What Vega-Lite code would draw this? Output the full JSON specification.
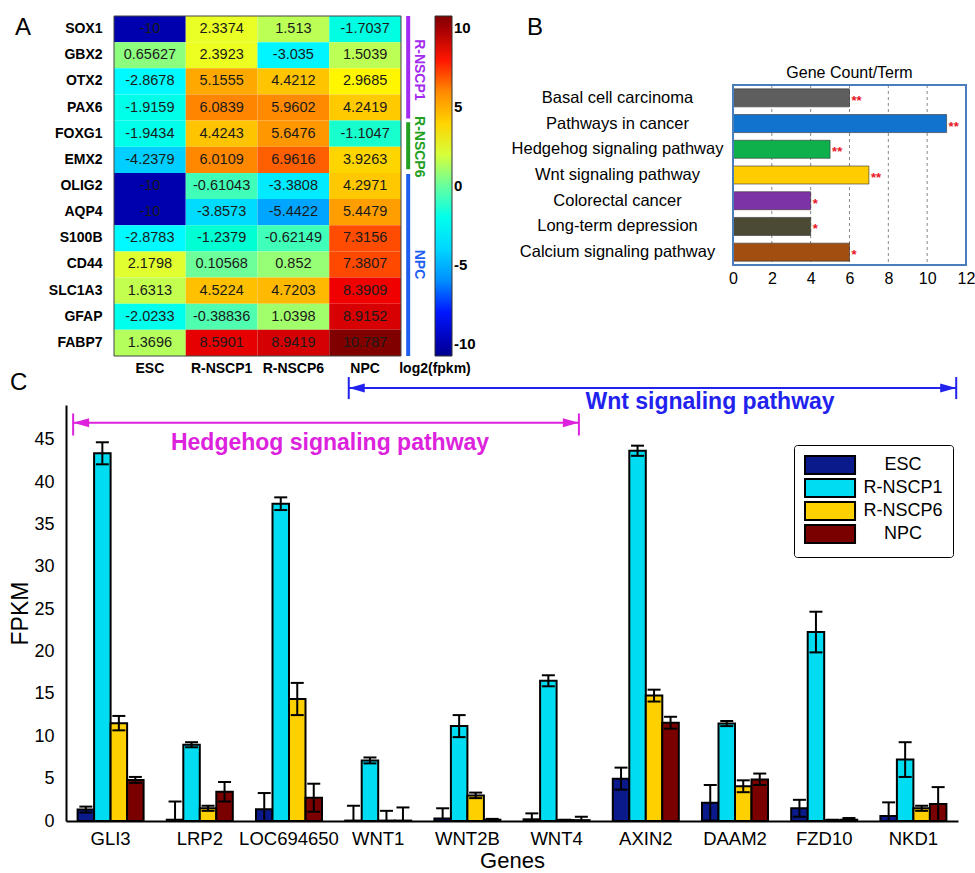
{
  "$schema": "https://vega.github.io/schema/vega-lite/v6.json",
  "background": "white",
  "padding": {"left": 9, "top": 14, "right": 0, "bottom": 0},
  "config": {
    "font": "Liberation Sans",
    "view": {"stroke": null},
    "axis": {"labelColor": "black", "titleColor": "black"},
    "legend": {"labelColor": "black", "titleColor": "black"}
  },
  "datasets": {
    "heat": [
      {"gene": "SOX1", "cell": "ESC", "log2fpkm": -10}, {"gene": "SOX1", "cell": "R-NSCP1", "log2fpkm": 2.3374}, {"gene": "SOX1", "cell": "R-NSCP6", "log2fpkm": 1.513}, {"gene": "SOX1", "cell": "NPC", "log2fpkm": -1.7037},
      {"gene": "GBX2", "cell": "ESC", "log2fpkm": 0.65627}, {"gene": "GBX2", "cell": "R-NSCP1", "log2fpkm": 2.3923}, {"gene": "GBX2", "cell": "R-NSCP6", "log2fpkm": -3.035}, {"gene": "GBX2", "cell": "NPC", "log2fpkm": 1.5039},
      {"gene": "OTX2", "cell": "ESC", "log2fpkm": -2.8678}, {"gene": "OTX2", "cell": "R-NSCP1", "log2fpkm": 5.1555}, {"gene": "OTX2", "cell": "R-NSCP6", "log2fpkm": 4.4212}, {"gene": "OTX2", "cell": "NPC", "log2fpkm": 2.9685},
      {"gene": "PAX6", "cell": "ESC", "log2fpkm": -1.9159}, {"gene": "PAX6", "cell": "R-NSCP1", "log2fpkm": 6.0839}, {"gene": "PAX6", "cell": "R-NSCP6", "log2fpkm": 5.9602}, {"gene": "PAX6", "cell": "NPC", "log2fpkm": 4.2419},
      {"gene": "FOXG1", "cell": "ESC", "log2fpkm": -1.9434}, {"gene": "FOXG1", "cell": "R-NSCP1", "log2fpkm": 4.4243}, {"gene": "FOXG1", "cell": "R-NSCP6", "log2fpkm": 5.6476}, {"gene": "FOXG1", "cell": "NPC", "log2fpkm": -1.1047},
      {"gene": "EMX2", "cell": "ESC", "log2fpkm": -4.2379}, {"gene": "EMX2", "cell": "R-NSCP1", "log2fpkm": 6.0109}, {"gene": "EMX2", "cell": "R-NSCP6", "log2fpkm": 6.9616}, {"gene": "EMX2", "cell": "NPC", "log2fpkm": 3.9263},
      {"gene": "OLIG2", "cell": "ESC", "log2fpkm": -10}, {"gene": "OLIG2", "cell": "R-NSCP1", "log2fpkm": -0.61043}, {"gene": "OLIG2", "cell": "R-NSCP6", "log2fpkm": -3.3808}, {"gene": "OLIG2", "cell": "NPC", "log2fpkm": 4.2971},
      {"gene": "AQP4", "cell": "ESC", "log2fpkm": -10}, {"gene": "AQP4", "cell": "R-NSCP1", "log2fpkm": -3.8573}, {"gene": "AQP4", "cell": "R-NSCP6", "log2fpkm": -5.4422}, {"gene": "AQP4", "cell": "NPC", "log2fpkm": 5.4479},
      {"gene": "S100B", "cell": "ESC", "log2fpkm": -2.8783}, {"gene": "S100B", "cell": "R-NSCP1", "log2fpkm": -1.2379}, {"gene": "S100B", "cell": "R-NSCP6", "log2fpkm": -0.62149}, {"gene": "S100B", "cell": "NPC", "log2fpkm": 7.3156},
      {"gene": "CD44", "cell": "ESC", "log2fpkm": 2.1798}, {"gene": "CD44", "cell": "R-NSCP1", "log2fpkm": 0.10568}, {"gene": "CD44", "cell": "R-NSCP6", "log2fpkm": 0.852}, {"gene": "CD44", "cell": "NPC", "log2fpkm": 7.3807},
      {"gene": "SLC1A3", "cell": "ESC", "log2fpkm": 1.6313}, {"gene": "SLC1A3", "cell": "R-NSCP1", "log2fpkm": 4.5224}, {"gene": "SLC1A3", "cell": "R-NSCP6", "log2fpkm": 4.7203}, {"gene": "SLC1A3", "cell": "NPC", "log2fpkm": 8.3909},
      {"gene": "GFAP", "cell": "ESC", "log2fpkm": -2.0233}, {"gene": "GFAP", "cell": "R-NSCP1", "log2fpkm": -0.38836}, {"gene": "GFAP", "cell": "R-NSCP6", "log2fpkm": 1.0398}, {"gene": "GFAP", "cell": "NPC", "log2fpkm": 8.9152},
      {"gene": "FABP7", "cell": "ESC", "log2fpkm": 1.3696}, {"gene": "FABP7", "cell": "R-NSCP1", "log2fpkm": 8.5901}, {"gene": "FABP7", "cell": "R-NSCP6", "log2fpkm": 8.9419}, {"gene": "FABP7", "cell": "NPC", "log2fpkm": 10.787}
    ],
    "groups": [
      {"group": "R-NSCP1", "firstRow": 0, "lastRow": 3.92, "midRow": 2.06},
      {"group": "R-NSCP6", "firstRow": 4.06, "lastRow": 5.86, "midRow": 5.0},
      {"group": "NPC", "firstRow": 6.04, "lastRow": 13, "midRow": 9.5}
    ],
    "kegg": [
      {"term": "Basal cell carcinoma", "count": 6, "significance": "**"},
      {"term": "Pathways in cancer", "count": 11, "significance": "**"},
      {"term": "Hedgehog signaling pathway", "count": 5, "significance": "**"},
      {"term": "Wnt signaling pathway", "count": 7, "significance": "**"},
      {"term": "Colorectal cancer", "count": 4, "significance": "*"},
      {"term": "Long-term depression", "count": 4, "significance": "*"},
      {"term": "Calcium signaling pathway", "count": 6, "significance": "*"}
    ],
    "countGrid": [{"count": 2}, {"count": 4}, {"count": 6}, {"count": 8}, {"count": 10}],
    "fpkm": [
      {"gene": "GLI3", "cell": "ESC", "fpkm": 1.35, "lo": 1.0, "hi": 1.7},
      {"gene": "GLI3", "cell": "R-NSCP1", "fpkm": 43.4, "lo": 42.1, "hi": 44.7},
      {"gene": "GLI3", "cell": "R-NSCP6", "fpkm": 11.55, "lo": 10.7, "hi": 12.4},
      {"gene": "GLI3", "cell": "NPC", "fpkm": 4.85, "lo": 4.5, "hi": 5.2},
      {"gene": "LRP2", "cell": "ESC", "fpkm": 0.15, "lo": 0, "hi": 2.3},
      {"gene": "LRP2", "cell": "R-NSCP1", "fpkm": 9.0, "lo": 8.7, "hi": 9.3},
      {"gene": "LRP2", "cell": "R-NSCP6", "fpkm": 1.5, "lo": 1.2, "hi": 1.8},
      {"gene": "LRP2", "cell": "NPC", "fpkm": 3.45, "lo": 2.3, "hi": 4.6},
      {"gene": "LOC694650", "cell": "ESC", "fpkm": 1.4, "lo": 0, "hi": 3.3},
      {"gene": "LOC694650", "cell": "R-NSCP1", "fpkm": 37.45, "lo": 36.7, "hi": 38.2},
      {"gene": "LOC694650", "cell": "R-NSCP6", "fpkm": 14.4, "lo": 12.5, "hi": 16.3},
      {"gene": "LOC694650", "cell": "NPC", "fpkm": 2.75, "lo": 1.1, "hi": 4.4},
      {"gene": "WNT1", "cell": "ESC", "fpkm": 0.05, "lo": 0, "hi": 1.8},
      {"gene": "WNT1", "cell": "R-NSCP1", "fpkm": 7.15, "lo": 6.8, "hi": 7.5},
      {"gene": "WNT1", "cell": "R-NSCP6", "fpkm": 0.05, "lo": 0, "hi": 1.2},
      {"gene": "WNT1", "cell": "NPC", "fpkm": 0.05, "lo": 0, "hi": 1.6},
      {"gene": "WNT2B", "cell": "ESC", "fpkm": 0.3, "lo": 0, "hi": 1.5},
      {"gene": "WNT2B", "cell": "R-NSCP1", "fpkm": 11.2, "lo": 9.9, "hi": 12.5},
      {"gene": "WNT2B", "cell": "R-NSCP6", "fpkm": 3.0, "lo": 2.7, "hi": 3.35},
      {"gene": "WNT2B", "cell": "NPC", "fpkm": 0.15, "lo": 0.05, "hi": 0.25},
      {"gene": "WNT4", "cell": "ESC", "fpkm": 0.2, "lo": 0, "hi": 0.9},
      {"gene": "WNT4", "cell": "R-NSCP1", "fpkm": 16.55, "lo": 15.9, "hi": 17.2},
      {"gene": "WNT4", "cell": "R-NSCP6", "fpkm": 0.1, "lo": 0.05, "hi": 0.15},
      {"gene": "WNT4", "cell": "NPC", "fpkm": 0.1, "lo": 0, "hi": 0.5},
      {"gene": "AXIN2", "cell": "ESC", "fpkm": 5.0, "lo": 3.7, "hi": 6.3},
      {"gene": "AXIN2", "cell": "R-NSCP1", "fpkm": 43.7, "lo": 43.1, "hi": 44.3},
      {"gene": "AXIN2", "cell": "R-NSCP6", "fpkm": 14.8, "lo": 14.1, "hi": 15.5},
      {"gene": "AXIN2", "cell": "NPC", "fpkm": 11.6, "lo": 10.9, "hi": 12.3},
      {"gene": "DAAM2", "cell": "ESC", "fpkm": 2.15, "lo": 0.05, "hi": 4.25},
      {"gene": "DAAM2", "cell": "R-NSCP1", "fpkm": 11.5, "lo": 11.2, "hi": 11.8},
      {"gene": "DAAM2", "cell": "R-NSCP6", "fpkm": 4.1, "lo": 3.4, "hi": 4.8},
      {"gene": "DAAM2", "cell": "NPC", "fpkm": 4.9, "lo": 4.25, "hi": 5.6},
      {"gene": "FZD10", "cell": "ESC", "fpkm": 1.5, "lo": 0.5, "hi": 2.5},
      {"gene": "FZD10", "cell": "R-NSCP1", "fpkm": 22.3, "lo": 19.9, "hi": 24.7},
      {"gene": "FZD10", "cell": "R-NSCP6", "fpkm": 0.1, "lo": 0.05, "hi": 0.15},
      {"gene": "FZD10", "cell": "NPC", "fpkm": 0.15, "lo": 0, "hi": 0.35},
      {"gene": "NKD1", "cell": "ESC", "fpkm": 0.6, "lo": 0, "hi": 2.2},
      {"gene": "NKD1", "cell": "R-NSCP1", "fpkm": 7.25, "lo": 5.2, "hi": 9.3},
      {"gene": "NKD1", "cell": "R-NSCP6", "fpkm": 1.5, "lo": 1.2, "hi": 1.8},
      {"gene": "NKD1", "cell": "NPC", "fpkm": 2.0, "lo": 0, "hi": 4.0}
    ],
    "pathways": [
      {"pathway": "Hedgehog signaling pathway", "startGene": 0.08, "endGene": 5.75, "arrowLevel": 47.0, "capBottom": 45.5, "capTop": 48.1, "labelGene": 2.96, "labelLevel": 44.6},
      {"pathway": "Wnt signaling pathway", "startGene": 3.17, "endGene": 9.98, "arrowLevel": 51.1, "capBottom": 49.8, "capTop": 52.4, "labelGene": 7.22, "labelLevel": 49.4}
    ]
  },
  "columns": 1,
  "spacing": -6,
  "resolve": {"scale": {"color": "independent", "fill": "independent"}, "legend": {"color": "independent", "fill": "independent"}},
  "concat": [
    {
      "columns": 2,
      "spacing": 35,
      "resolve": {"scale": {"color": "independent"}, "legend": {"color": "independent"}},
      "concat": [
        {
          "width": 335,
          "height": 340,
          "layer": [
            {
              "data": {"name": "heat"},
              "mark": {"type": "rect"},
              "encoding": {
                "x": {"field": "cell", "type": "nominal", "scale": {"type": "band", "domain": ["ESC", "R-NSCP1", "R-NSCP6", "NPC"], "paddingInner": 0, "paddingOuter": 0.3344, "align": 1}, "axis": {"title": null, "labelAngle": 0, "labelFontSize": 14, "labelFontWeight": "bold", "ticks": false, "domain": false, "labelPadding": 5}},
                "y": {"field": "gene", "type": "nominal", "scale": {"type": "band", "domain": ["SOX1", "GBX2", "OTX2", "PAX6", "FOXG1", "EMX2", "OLIG2", "AQP4", "S100B", "CD44", "SLC1A3", "GFAP", "FABP7"], "paddingInner": 0, "paddingOuter": 0}, "axis": {"title": null, "labelFontSize": 14, "labelFontWeight": "bold", "ticks": false, "domain": false, "labelPadding": 12, "offset": -48}},
                "color": {
                  "field": "log2fpkm", "type": "quantitative",
                  "scale": {"domain": [-10.79, -8.09, -2.7, 2.7, 8.09, 10.79], "range": ["#00008F", "#0000FF", "#00FFFF", "#FFFF00", "#FF0000", "#800000"]},
                  "legend": {"title": "log2(fpkm)", "titleOrient": "bottom", "titleFontSize": 14, "titleFontWeight": "bold", "titleAnchor": "start", "titleAlign": "center", "values": [-10, -5, 0, 5, 10], "labelExpr": "replace(datum.label, '\u2212', '-')", "gradientLength": 340, "gradientThickness": 17, "gradientStrokeColor": "#333", "gradientStrokeWidth": 1, "labelFontSize": 15, "labelFontWeight": "bold", "labelOverlap": false, "offset": -2}
                }
              }
            },
            {
              "data": {"name": "heat"},
              "transform": [{"calculate": "replace(format(datum.log2fpkm, '.5~g'), '\u2212', '-')", "as": "shown"}],
              "mark": {"type": "text", "fontSize": 14.5, "color": "#1a1a1a"},
              "encoding": {
                "x": {"field": "cell", "type": "nominal", "scale": {"type": "band", "domain": ["ESC", "R-NSCP1", "R-NSCP6", "NPC"], "paddingInner": 0, "paddingOuter": 0.3344, "align": 1}, "axis": null},
                "y": {"field": "gene", "type": "nominal", "scale": {"type": "band", "domain": ["SOX1", "GBX2", "OTX2", "PAX6", "FOXG1", "EMX2", "OLIG2", "AQP4", "S100B", "CD44", "SLC1A3", "GFAP", "FABP7"], "paddingInner": 0, "paddingOuter": 0}, "axis": null},
                "text": {"field": "shown"}
              }
            },
            {
              "data": {"values": [{"frame": "heatmap"}]},
              "mark": {"type": "rect", "fill": null, "stroke": "#444", "strokeWidth": 1},
              "encoding": {
                "x": {"datum": 0, "type": "quantitative", "scale": {"domain": [-0.669, 4], "nice": false, "zero": false}, "axis": null},
                "x2": {"datum": 4},
                "y": {"datum": 0, "type": "quantitative", "scale": {"domain": [0, 13], "nice": false, "zero": false, "reverse": true}, "axis": null},
                "y2": {"datum": 13}
              }
            },
            {
              "data": {"name": "groups"},
              "mark": {"type": "rule", "strokeWidth": 4},
              "encoding": {
                "x": {"datum": 4.1, "type": "quantitative", "scale": {"domain": [-0.669, 4], "nice": false, "zero": false}, "axis": null},
                "y": {"field": "firstRow", "type": "quantitative", "scale": {"domain": [0, 13], "nice": false, "zero": false, "reverse": true}, "axis": null},
                "y2": {"field": "lastRow"},
                "color": {"field": "group", "type": "nominal", "scale": {"domain": ["R-NSCP1", "R-NSCP6", "NPC"], "range": ["#A32AF0", "#22A022", "#1F5FF0"]}, "legend": null}
              }
            },
            {
              "data": {"name": "groups"},
              "mark": {"type": "text", "angle": 90, "fontSize": 14, "fontWeight": "bold"},
              "encoding": {
                "x": {"datum": 4.25, "type": "quantitative", "scale": {"domain": [-0.669, 4], "nice": false, "zero": false}, "axis": null},
                "y": {"field": "midRow", "type": "quantitative", "scale": {"domain": [0, 13], "nice": false, "zero": false, "reverse": true}, "axis": null},
                "text": {"field": "group"},
                "color": {"field": "group", "type": "nominal", "scale": {"domain": ["R-NSCP1", "R-NSCP6", "NPC"], "range": ["#A32AF0", "#22A022", "#1F5FF0"]}, "legend": null}
              }
            },
            {
              "data": {"values": [{"panel": "A"}]},
              "mark": {"type": "text", "fontSize": 24, "color": "black"},
              "encoding": {
                "x": {"datum": -1.268, "type": "quantitative", "scale": {"domain": [-0.669, 4], "nice": false, "zero": false}, "axis": null},
                "y": {"datum": 0.46, "type": "quantitative", "scale": {"domain": [0, 13], "nice": false, "zero": false, "reverse": true}, "axis": null},
                "text": {"field": "panel"}
              }
            }
          ],
          "resolve": {"scale": {"x": "independent", "y": "independent", "color": "independent"}}
        },
        {
          "width": 233,
          "height": 249,
          "layer": [
            {
              "data": {"name": "countGrid"},
              "mark": {"type": "rule", "strokeDash": [3, 3], "color": "#888", "strokeWidth": 1},
              "encoding": {
                "x": {"field": "count", "type": "quantitative", "title": null, "scale": {"domain": [0, 12], "nice": false}, "axis": {"values": [0, 2, 4, 6, 8, 10, 12], "tickCount": 7, "labelFontSize": 16, "labelOverlap": false, "labelFlush": false, "grid": false, "ticks": false, "domain": false, "labelPadding": 5}},
                "y": {"datum": 0, "type": "quantitative", "scale": {"domain": [-2.684, 7], "nice": false, "zero": false, "reverse": true}, "axis": null},
                "y2": {"datum": 7}
              }
            },
            {
              "data": {"name": "kegg"},
              "mark": {"type": "bar", "stroke": "#333", "strokeWidth": 0.6},
              "encoding": {
                "y": {"field": "term", "type": "nominal", "scale": {"type": "band", "domain": ["Basal cell carcinoma", "Pathways in cancer", "Hedgehog signaling pathway", "Wnt signaling pathway", "Colorectal cancer", "Long-term depression", "Calcium signaling pathway"], "range": [69, 249], "paddingInner": 0.3, "paddingOuter": 0.15}, "axis": {"title": null, "labelFontSize": 16.5, "labelAlign": "center", "labelPadding": 116, "ticks": false, "domain": false, "labelLimit": 400}},
                "x": {"field": "count", "type": "quantitative", "title": null, "scale": {"domain": [0, 12], "nice": false}, "axis": {"values": [0, 2, 4, 6, 8, 10, 12], "tickCount": 7, "labelFontSize": 16, "labelOverlap": false, "labelFlush": false, "grid": false, "ticks": false, "domain": false, "labelPadding": 5}},
                "color": {"field": "term", "type": "nominal", "scale": {"domain": ["Basal cell carcinoma", "Pathways in cancer", "Hedgehog signaling pathway", "Wnt signaling pathway", "Colorectal cancer", "Long-term depression", "Calcium signaling pathway"], "range": ["#5E5E5E", "#1273CF", "#0DB04B", "#FFCC00", "#7B33A6", "#4B4A35", "#A24E10"]}, "legend": null}
              }
            },
            {
              "data": {"name": "kegg"},
              "mark": {"type": "text", "align": "left", "dx": 2, "dy": 3, "color": "#E8141E", "fontSize": 13, "fontWeight": "bold"},
              "encoding": {
                "y": {"field": "term", "type": "nominal", "scale": {"type": "band", "domain": ["Basal cell carcinoma", "Pathways in cancer", "Hedgehog signaling pathway", "Wnt signaling pathway", "Colorectal cancer", "Long-term depression", "Calcium signaling pathway"], "range": [69, 249], "paddingInner": 0.3, "paddingOuter": 0.15}, "axis": null},
                "x": {"field": "count", "type": "quantitative", "title": null, "scale": {"domain": [0, 12], "nice": false}, "axis": {"values": [0, 2, 4, 6, 8, 10, 12], "tickCount": 7, "labelFontSize": 16, "labelOverlap": false, "labelFlush": false, "grid": false, "ticks": false, "domain": false, "labelPadding": 5}},
                "text": {"field": "significance"}
              }
            },
            {
              "data": {"values": [{"frame": "plot"}]},
              "mark": {"type": "rect", "fill": null, "stroke": "#4A7EBB", "strokeWidth": 2},
              "encoding": {
                "x": {"datum": 0, "type": "quantitative", "title": null, "scale": {"domain": [0, 12], "nice": false}, "axis": {"values": [0, 2, 4, 6, 8, 10, 12], "tickCount": 7, "labelFontSize": 16, "labelOverlap": false, "labelFlush": false, "grid": false, "ticks": false, "domain": false, "labelPadding": 5}},
                "x2": {"datum": 12},
                "y": {"datum": 0, "type": "quantitative", "scale": {"domain": [-2.684, 7], "nice": false, "zero": false, "reverse": true}, "axis": null},
                "y2": {"datum": 7}
              }
            },
            {
              "data": {"values": [{"panel": "B", "heading": "Gene Count/Term"}]},
              "mark": {"type": "text", "fontSize": 24, "color": "black"},
              "encoding": {
                "x": {"datum": -10.2, "type": "quantitative", "title": null, "scale": {"domain": [0, 12], "nice": false}, "axis": {"values": [0, 2, 4, 6, 8, 10, 12], "tickCount": 7, "labelFontSize": 16, "labelOverlap": false, "labelFlush": false, "grid": false, "ticks": false, "domain": false, "labelPadding": 5}},
                "y": {"datum": -2.22, "type": "quantitative", "scale": {"domain": [-2.684, 7], "nice": false, "zero": false, "reverse": true}, "axis": null},
                "text": {"field": "panel"}
              }
            },
            {
              "data": {"values": [{"panel": "B", "heading": "Gene Count/Term"}]},
              "mark": {"type": "text", "fontSize": 16, "color": "black"},
              "encoding": {
                "x": {"datum": 6, "type": "quantitative", "title": null, "scale": {"domain": [0, 12], "nice": false}, "axis": {"values": [0, 2, 4, 6, 8, 10, 12], "tickCount": 7, "labelFontSize": 16, "labelOverlap": false, "labelFlush": false, "grid": false, "ticks": false, "domain": false, "labelPadding": 5}},
                "y": {"datum": -0.47, "type": "quantitative", "scale": {"domain": [-2.684, 7], "nice": false, "zero": false, "reverse": true}, "axis": null},
                "text": {"field": "heading"}
              }
            }
          ],
          "resolve": {"scale": {"y": "independent"}}
        }
      ]
    },
    {
      "width": 892,
      "height": 416,
      "layer": [
        {
          "layer": [
            {
              "data": {"name": "fpkm"},
              "mark": {"type": "bar", "stroke": "black", "strokeWidth": 2},
              "encoding": {
                "x": {"field": "gene", "type": "nominal", "title": "Genes", "scale": {"type": "band", "domain": ["GLI3", "LRP2", "LOC694650", "WNT1", "WNT2B", "WNT4", "AXIN2", "DAAM2", "FZD10", "NKD1"], "paddingInner": 0.26, "paddingOuter": 0.13}, "axis": {"labelAngle": 0, "labelFontSize": 18.5, "titleFontSize": 22, "titleFontWeight": "normal", "ticks": false, "domainColor": "black", "domainWidth": 2, "labelPadding": 8, "titlePadding": 3}},
                "xOffset": {"field": "cell", "type": "nominal", "scale": {"domain": ["ESC", "R-NSCP1", "R-NSCP6", "NPC"], "paddingInner": 0, "paddingOuter": 0}},
                "y": {"field": "fpkm", "type": "quantitative", "title": "FPKM", "scale": {"domain": [0, 49.1], "nice": false}, "axis": {"values": [0, 5, 10, 15, 20, 25, 30, 35, 40, 45], "labelFontSize": 18, "titleFontSize": 23, "titleFontWeight": "normal", "ticks": false, "grid": false, "domainColor": "black", "domainWidth": 2, "labelPadding": 12, "titlePadding": 1}},
                "fill": {
                  "field": "cell", "type": "nominal",
                  "scale": {"domain": ["ESC", "R-NSCP1", "R-NSCP6", "NPC"], "range": ["#0A1A8A", "#00DDF2", "#FFD000", "#7A0000"]},
                  "legend": {"title": null, "orient": "none", "legendX": 728, "legendY": 40, "symbolType": "M-1,-1H4.56V1H-1Z", "symbolSize": 324, "symbolStrokeColor": "black", "symbolStrokeWidth": 2, "symbolOpacity": 1, "labelFontSize": 18, "labelAlign": "center", "labelOffset": 79, "rowPadding": -3, "padding": 10, "strokeColor": "black", "fillColor": "white", "cornerRadius": 3}
                }
              }
            },
            {
              "data": {"name": "fpkm"},
              "mark": {"type": "rule", "strokeWidth": 2, "color": "black"},
              "encoding": {
                "x": {"field": "gene", "type": "nominal", "title": "Genes", "scale": {"type": "band", "domain": ["GLI3", "LRP2", "LOC694650", "WNT1", "WNT2B", "WNT4", "AXIN2", "DAAM2", "FZD10", "NKD1"], "paddingInner": 0.26, "paddingOuter": 0.13}},
                "xOffset": {"field": "cell", "type": "nominal", "scale": {"domain": ["ESC", "R-NSCP1", "R-NSCP6", "NPC"], "paddingInner": 0, "paddingOuter": 0}},
                "y": {"field": "lo", "type": "quantitative", "title": "FPKM", "scale": {"domain": [0, 49.1], "nice": false}},
                "y2": {"field": "hi"}
              }
            },
            {
              "data": {"name": "fpkm"},
              "mark": {"type": "tick", "orient": "horizontal", "thickness": 2, "size": 13, "color": "black", "opacity": 1},
              "encoding": {
                "x": {"field": "gene", "type": "nominal", "title": "Genes", "scale": {"type": "band", "domain": ["GLI3", "LRP2", "LOC694650", "WNT1", "WNT2B", "WNT4", "AXIN2", "DAAM2", "FZD10", "NKD1"], "paddingInner": 0.26, "paddingOuter": 0.13}},
                "xOffset": {"field": "cell", "type": "nominal", "scale": {"domain": ["ESC", "R-NSCP1", "R-NSCP6", "NPC"], "paddingInner": 0, "paddingOuter": 0}},
                "y": {"field": "hi", "type": "quantitative", "title": "FPKM", "scale": {"domain": [0, 49.1], "nice": false}}
              }
            },
            {
              "data": {"name": "fpkm"},
              "mark": {"type": "tick", "orient": "horizontal", "thickness": 2, "size": 13, "color": "black", "opacity": 1},
              "encoding": {
                "x": {"field": "gene", "type": "nominal", "title": "Genes", "scale": {"type": "band", "domain": ["GLI3", "LRP2", "LOC694650", "WNT1", "WNT2B", "WNT4", "AXIN2", "DAAM2", "FZD10", "NKD1"], "paddingInner": 0.26, "paddingOuter": 0.13}},
                "xOffset": {"field": "cell", "type": "nominal", "scale": {"domain": ["ESC", "R-NSCP1", "R-NSCP6", "NPC"], "paddingInner": 0, "paddingOuter": 0}},
                "y": {"field": "lo", "type": "quantitative", "title": "FPKM", "scale": {"domain": [0, 49.1], "nice": false}}
              }
            }
          ]
        },
        {
          "layer": [
            {
              "data": {"name": "pathways"},
              "mark": {"type": "rule", "strokeWidth": 2},
              "encoding": {
                "x": {"field": "startGene", "type": "quantitative", "scale": {"domain": [0, 10], "nice": false, "zero": false}, "axis": null},
                "x2": {"field": "endGene"},
                "y": {"field": "arrowLevel", "type": "quantitative", "title": "FPKM", "scale": {"domain": [0, 49.1], "nice": false}},
                "color": {"field": "pathway", "type": "nominal", "scale": {"domain": ["Hedgehog signaling pathway", "Wnt signaling pathway"], "range": ["#DD22DD", "#2222EE"]}, "legend": null}
              }
            },
            {
              "data": {"name": "pathways"},
              "mark": {"type": "rule", "strokeWidth": 2},
              "encoding": {
                "x": {"field": "startGene", "type": "quantitative", "scale": {"domain": [0, 10], "nice": false, "zero": false}, "axis": null},
                "y": {"field": "capBottom", "type": "quantitative", "title": "FPKM", "scale": {"domain": [0, 49.1], "nice": false}},
                "y2": {"field": "capTop"},
                "color": {"field": "pathway", "type": "nominal", "scale": {"domain": ["Hedgehog signaling pathway", "Wnt signaling pathway"], "range": ["#DD22DD", "#2222EE"]}, "legend": null}
              }
            },
            {
              "data": {"name": "pathways"},
              "mark": {"type": "rule", "strokeWidth": 2},
              "encoding": {
                "x": {"field": "endGene", "type": "quantitative", "scale": {"domain": [0, 10], "nice": false, "zero": false}, "axis": null},
                "y": {"field": "capBottom", "type": "quantitative", "title": "FPKM", "scale": {"domain": [0, 49.1], "nice": false}},
                "y2": {"field": "capTop"},
                "color": {"field": "pathway", "type": "nominal", "scale": {"domain": ["Hedgehog signaling pathway", "Wnt signaling pathway"], "range": ["#DD22DD", "#2222EE"]}, "legend": null}
              }
            },
            {
              "data": {"name": "pathways"},
              "mark": {"type": "point", "shape": "M-1,0L1,-0.56L1,0.56Z", "filled": true, "size": 256, "opacity": 1, "xOffset": 8},
              "encoding": {
                "x": {"field": "startGene", "type": "quantitative", "scale": {"domain": [0, 10], "nice": false, "zero": false}, "axis": null},
                "y": {"field": "arrowLevel", "type": "quantitative", "title": "FPKM", "scale": {"domain": [0, 49.1], "nice": false}},
                "color": {"field": "pathway", "type": "nominal", "scale": {"domain": ["Hedgehog signaling pathway", "Wnt signaling pathway"], "range": ["#DD22DD", "#2222EE"]}, "legend": null}
              }
            },
            {
              "data": {"name": "pathways"},
              "mark": {"type": "point", "shape": "M1,0L-1,-0.56L-1,0.56Z", "filled": true, "size": 256, "opacity": 1, "xOffset": -8},
              "encoding": {
                "x": {"field": "endGene", "type": "quantitative", "scale": {"domain": [0, 10], "nice": false, "zero": false}, "axis": null},
                "y": {"field": "arrowLevel", "type": "quantitative", "title": "FPKM", "scale": {"domain": [0, 49.1], "nice": false}},
                "color": {"field": "pathway", "type": "nominal", "scale": {"domain": ["Hedgehog signaling pathway", "Wnt signaling pathway"], "range": ["#DD22DD", "#2222EE"]}, "legend": null}
              }
            },
            {
              "data": {"name": "pathways"},
              "mark": {"type": "text", "fontSize": 23, "fontWeight": "bold"},
              "encoding": {
                "x": {"field": "labelGene", "type": "quantitative", "scale": {"domain": [0, 10], "nice": false, "zero": false}, "axis": null},
                "y": {"field": "labelLevel", "type": "quantitative", "title": "FPKM", "scale": {"domain": [0, 49.1], "nice": false}},
                "text": {"field": "pathway"},
                "color": {"field": "pathway", "type": "nominal", "scale": {"domain": ["Hedgehog signaling pathway", "Wnt signaling pathway"], "range": ["#DD22DD", "#2222EE"]}, "legend": null}
              }
            },
            {
              "data": {"values": [{"panel": "C"}]},
              "mark": {"type": "text", "fontSize": 24, "color": "black"},
              "encoding": {
                "x": {"datum": -0.53, "type": "quantitative", "scale": {"domain": [0, 10], "nice": false, "zero": false}, "axis": null},
                "y": {"datum": 51.7, "type": "quantitative", "title": "FPKM", "scale": {"domain": [0, 49.1], "nice": false}},
                "text": {"field": "panel"}
              }
            }
          ]
        }
      ],
      "resolve": {"scale": {"x": "independent"}}
    }
  ]
}
